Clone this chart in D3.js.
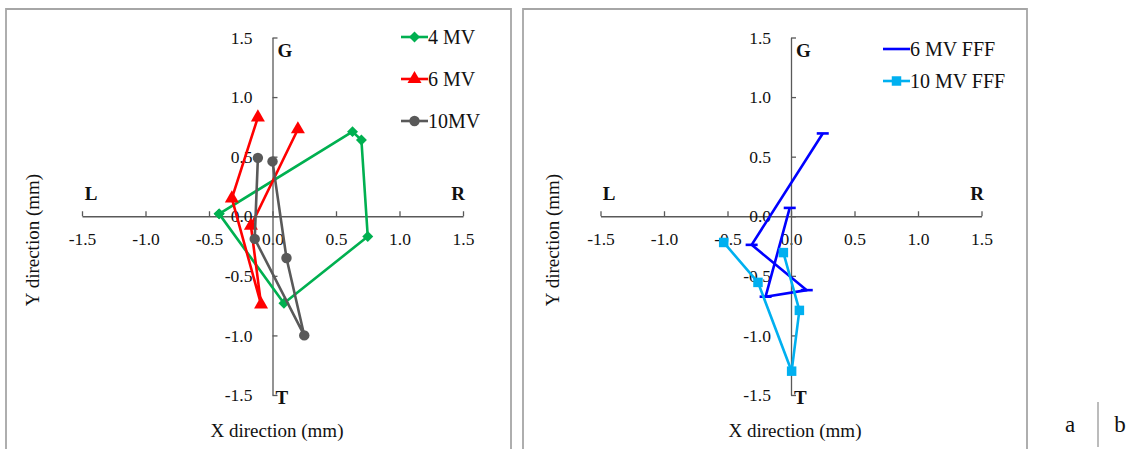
<!DOCTYPE html>
<html>
<head>
<meta charset="utf-8">
<script src="https://cdn.jsdelivr.net/npm/d3@7"></script>
<style>
  body { margin: 0; background: #fff; }
  svg, svg text { font-family: "Liberation Serif", "Times New Roman", serif; }
  svg { display: block; }
</style>
</head>
<body>
<svg id="chart" width="1131" height="449"></svg>
<script>
// tick values shared by both panels
var tickVals = [-1.5, -1.0, -0.5, 0, 0.5, 1.0, 1.5];

// panel a
var mv4X = [-0.42, 0.63, 0.70, 0.75, 0.09, -0.42];
var mv4Y = [0.02, 0.71, 0.64, -0.17, -0.73, 0.02];
var mv6X = [-0.115, -0.32, -0.09, -0.17, 0.20];
var mv6Y = [0.83, 0.15, -0.74, -0.08, 0.73];
var mv10X = [-0.115, -0.14, 0.25, 0.11, 0.00];
var mv10Y = [0.49, -0.19, -1.00, -0.35, 0.46];

// panel b
var fff6X = [0.25, -0.31, 0.124, -0.20, -0.01];
var fff6Y = [0.695, -0.24, -0.62, -0.675, 0.07];
var fff10X = [-0.53, -0.26, 0.005, 0.066, -0.06];
var fff10Y = [-0.22, -0.555, -1.30, -0.79, -0.305];

var svg = d3.select("#chart");
var axisColor = "#595959";
var fmt = function (d) { return d3.format(".1f")(d).replace("\u2212", "-"); };

// panel frames
svg.append("path").attr("d", "M6,449V9H511V449")
  .attr("fill", "none").attr("stroke", "#a6a6a6").attr("stroke-width", 1.8);
svg.append("path").attr("d", "M523,449V9H1027V449")
  .attr("fill", "none").attr("stroke", "#a6a6a6").attr("stroke-width", 1.8);

function zip(xs, ys) {
  return xs.map(function (x, i) { return [x, ys[i]]; });
}

function drawPanel(p) {
  var x = d3.scaleLinear().domain([-1.5, 1.5]).range(p.xr);
  var y = d3.scaleLinear().domain([-1.5, 1.5]).range([395, 37.5]);
  var g = svg.append("g");

  var xa = g.append("g").attr("transform", "translate(0," + y(0) + ")")
    .call(d3.axisBottom(x).tickValues(tickVals).tickFormat(fmt)
      .tickSizeInner(-5).tickSizeOuter(0).tickPadding(16));
  var ya = g.append("g").attr("transform", "translate(" + x(0) + ",0)")
    .call(d3.axisLeft(y).tickValues(tickVals).tickFormat(fmt)
      .tickSizeInner(-5).tickSizeOuter(0).tickPadding(20));
  [xa, ya].forEach(function (a) {
    a.attr("font-size", null).attr("font-family", null);
    a.select(".domain").attr("stroke", axisColor).attr("stroke-width", 1.3);
    a.selectAll(".tick line").attr("stroke", axisColor).attr("stroke-width", 1.3);
    a.selectAll(".tick text").attr("fill", "#111").attr("font-size", 17.5);
  });

  // direction letters
  var dirs = [["L", p.L, 200], ["R", p.R, 200], ["G", x(0) + 5, 57], ["T", x(0) + 3, 404]];
  dirs.forEach(function (d) {
    g.append("text").attr("x", d[1]).attr("y", d[2])
      .attr("text-anchor", d[0] == "L" || d[0] == "R" ? "middle" : "start")
      .attr("font-weight", "bold").attr("font-size", 19).attr("fill", "#111").text(d[0]);
  });

  g.append("text").attr("x", p.xt).attr("y", 437).attr("text-anchor", "middle")
    .attr("font-size", 19).attr("fill", "#111").text("X direction (mm)");
  g.append("text").attr("transform", "translate(" + p.yt + ",240) rotate(-90)")
    .attr("text-anchor", "middle").attr("font-size", 19).attr("fill", "#111")
    .text("Y direction (mm)");

  var line = d3.line().x(function (d) { return x(d[0]); }).y(function (d) { return y(d[1]); });

  p.series.forEach(function (s, i) {
    var pts = zip(s.xs, s.ys);
    g.append("path").datum(pts).attr("d", line)
      .attr("fill", "none").attr("stroke", s.color).attr("stroke-width", 2.6)
      .attr("stroke-linejoin", "round");
    pts.forEach(function (d) {
      marker(g, s, x(d[0]), y(d[1]));
    });

    // legend
    var ly = p.legY[i];
    g.append("line").attr("x1", p.legX).attr("x2", p.legX + 27)
      .attr("y1", ly).attr("y2", ly).attr("stroke", s.color).attr("stroke-width", 2.6);
    if (s.shape != "dash") marker(g, s, p.legX + 13.5, ly);
    g.append("text").attr("x", p.legX + 27).attr("y", ly + 6.5)
      .attr("font-size", 20).attr("fill", "#111").text(s.name);
  });
}

function marker(g, s, cx, cy) {
  if (s.shape == "dash") {
    g.append("rect").attr("x", cx - 6).attr("y", cy - 1.3).attr("width", 12).attr("height", 2.6)
      .attr("fill", s.color);
    return;
  }
  var sym, size = 64, rot = 0;
  if (s.shape == "diamond") { sym = d3.symbolSquare; size = 60; rot = 45; }
  if (s.shape == "triangle") { sym = d3.symbolTriangle; size = 85; }
  if (s.shape == "circle") { sym = d3.symbolCircle; size = 85; }
  if (s.shape == "square") { sym = d3.symbolSquare; size = 90; }
  g.append("path").attr("d", d3.symbol().type(sym).size(size)())
    .attr("transform", "translate(" + cx + "," + cy + ") rotate(" + rot + ")")
    .attr("fill", s.color);
}

drawPanel({
  xr: [82, 463], L: 91, R: 458, xt: 277, yt: 39, legX: 401, legY: [37, 79, 121],
  series: [
    { name: "4 MV", xs: mv4X, ys: mv4Y, color: "#00b050", shape: "diamond" },
    { name: "6 MV", xs: mv6X, ys: mv6Y, color: "#ff0000", shape: "triangle" },
    { name: "10MV", xs: mv10X, ys: mv10Y, color: "#595959", shape: "circle" }
  ]
});

drawPanel({
  xr: [600.5, 981.5], L: 609, R: 977, xt: 795, yt: 559, legX: 883, legY: [49, 81],
  series: [
    { name: "6 MV FFF", xs: fff6X, ys: fff6Y, color: "#0000ff", shape: "dash" },
    { name: "10 MV FFF", xs: fff10X, ys: fff10Y, color: "#00b0f0", shape: "square" }
  ]
});

// panel captions
svg.append("text").attr("x", 1070).attr("y", 432).attr("text-anchor", "middle")
  .attr("font-size", 23).attr("fill", "#111").text("a");
svg.append("line").attr("x1", 1098).attr("x2", 1098).attr("y1", 402).attr("y2", 447)
  .attr("stroke", "#a6a6a6").attr("stroke-width", 1.5);
svg.append("text").attr("x", 1120).attr("y", 432).attr("text-anchor", "middle")
  .attr("font-size", 23).attr("fill", "#111").text("b");
</script>
</body>
</html>
